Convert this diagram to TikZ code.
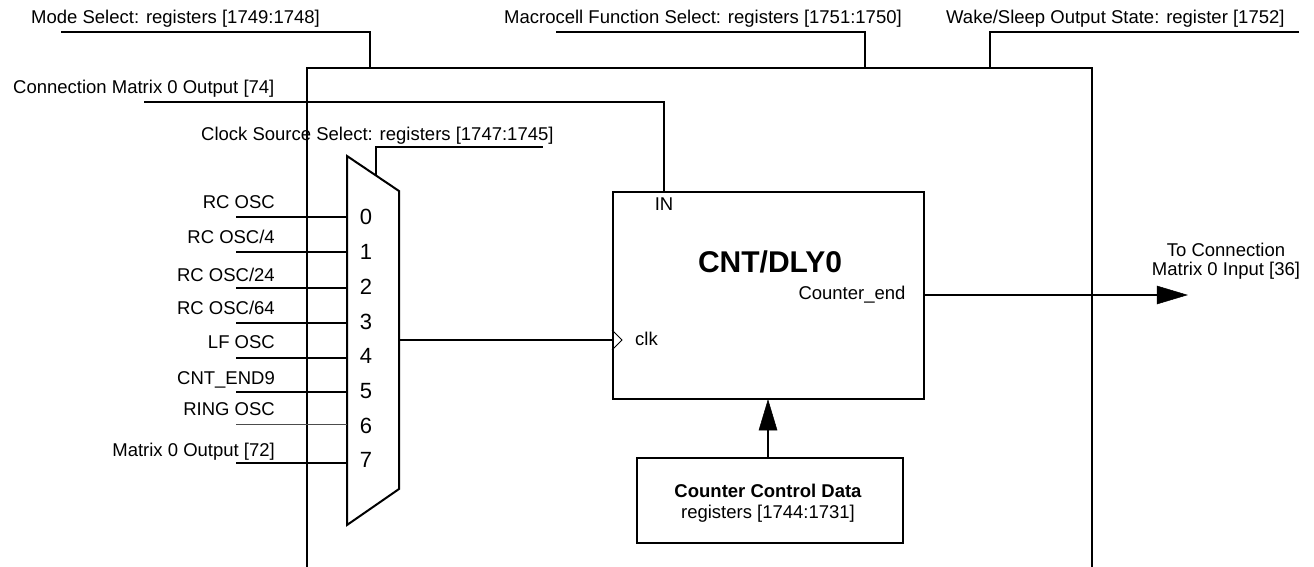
\documentclass[tikz,border=0pt]{standalone}
\usepackage{fontspec}
\setmainfont{Liberation Sans}
\begin{document}
\begin{tikzpicture}[x=1pt,y=-1pt,
  wire/.style={line width=2pt},
  thinwire/.style={line width=1pt},
  lbl/.style={inner sep=0pt,font=\fontsize{18.5}{22}\selectfont},
  dig/.style={inner sep=0pt,anchor=base,font=\fontsize{22}{26}\selectfont},
  ttl/.style={inner sep=0pt,anchor=base,font=\fontsize{30}{34}\selectfont\bfseries},
  boxed/.style={draw,line width=2pt,inner sep=0pt},
  head/.style={fill=black,draw=black,line width=0.5pt}]
\useasboundingbox (0,0) rectangle (1314,567);

% macrocell frame
\coordinate (fTL) at (307,68);
\coordinate (fTR) at (1092,68);
\coordinate (fBL) at (307,567);
\coordinate (fBR) at (1092,567);
\draw[wire] (fBL) -- (fTL) -- (fTR) -- (fBR);

% top labels
\node[lbl,anchor=base west] (mode) at (31,24) {Mode Select: registers [1749:1748]};
\node[lbl,anchor=base east] (macro) at (902,24) {Macrocell Function Select: registers [1751:1750]};
\node[lbl,anchor=base west] (wake) at (946,24) {Wake/Sleep Output State: register [1752]};
\coordinate (modeS) at (61,32);
\coordinate (modeK) at (370,32);
\coordinate (modeE) at (370,68);
\draw[wire] (modeS) -- (modeK) -- (modeE);
\coordinate (macS) at (556,32);
\coordinate (macK) at (865,32);
\coordinate (macE) at (865,68);
\draw[wire] (macS) -- (macK) -- (macE);
\coordinate (wakS) at (1299,32);
\coordinate (wakK) at (990,32);
\coordinate (wakE) at (990,68);
\draw[wire] (wakS) -- (wakK) -- (wakE);

% CNT/DLY0 block
\node[boxed,minimum width=311pt,minimum height=207pt,anchor=north west] (cnt) at (612,191) {};
\node[ttl] (title) at (770,272) {CNT/DLY0};
\node[lbl,anchor=base] (in) at (664,210) {IN};
\node[lbl,anchor=base] (cend) at (852,299) {Counter\_end};
\node[lbl,anchor=base west] (clk) at (635,345) {clk};
\coordinate (ck1) at (612,330);
\coordinate (ck2) at (622,340);
\coordinate (ck3) at (612,350);
\draw[thinwire] (ck1) -- (ck2) -- (ck3);

% connection matrix input
\node[lbl,anchor=base west] (cm74) at (13,94) {Connection Matrix 0 Output [74]};
\coordinate (cmS) at (144,102);
\coordinate (cmK) at (664,102);
\draw[wire] (cmS) -- (cmK) -- (cmK |- cnt.north);

% mux
\coordinate (mTL) at (347,156);
\coordinate (mTR) at (399,191);
\coordinate (mBR) at (399,489);
\coordinate (mBL) at (347,525);
\draw[wire,fill=white] (mTL) -- (mTR) -- (mBR) -- (mBL) -- cycle;
\node[lbl,anchor=base west] (css) at (201,140) {Clock Source Select: registers [1747:1745]};
\coordinate (selB) at (376,175);
\coordinate (selK) at (376,147);
\coordinate (selE) at (543,147);
\draw[wire] (selB) -- (selK) -- (selE);

% mux digits
\foreach \d/\y in {0/224,1/259,2/294,3/329,4/363,5/398,6/433,7/467}
  \node[dig] (d\d) at (366,\y) {\d};

% inputs
\node[lbl,anchor=base east] (in0) at (275,208) {RC OSC};
\node[lbl,anchor=base east] (in1) at (275,243) {RC OSC/4};
\node[lbl,anchor=base east] (in2) at (275,281) {RC OSC/24};
\node[lbl,anchor=base east] (in3) at (275,314) {RC OSC/64};
\node[lbl,anchor=base east] (in4) at (275,348) {LF OSC};
\node[lbl,anchor=base east] (in5) at (275,384) {CNT\_END9};
\node[lbl,anchor=base east] (in6) at (275,415) {RING OSC};
\node[lbl,anchor=base east] (in7) at (275,456) {Matrix 0 Output [72]};
\foreach \i/\l in {0/217,1/252,2/288,3/323,4/358,5/392,7/463}{
  \coordinate (is\i) at (236,\l);
  \draw[wire] (is\i) -- (is\i -| mTL);
}
\coordinate (is6) at (236,424);
\draw[line width=1pt,black!70] (is6) -- (is6 -| mTL);

% mux output to clk
\coordinate (mOut) at (399,340);
\draw[wire] (mOut) -- (mOut -| cnt.west);

% output arrow
\coordinate (oS) at (923,295);
\coordinate (oE) at (1160,295);
\coordinate (oT) at (1187,295);
\draw[wire] (oS) -- (oE);
\fill[head] (1157,286) -- (oT) -- (1157,304) -- cycle;
\node[lbl,anchor=base] (to1) at (1226,256) {To Connection};
\node[lbl,anchor=base] (to2) at (1226,275) {Matrix 0 Input [36]};

% counter control data
\node[boxed,minimum width=266pt,minimum height=85pt,anchor=north west] (ccd) at (636,457) {};
\node[lbl,anchor=base,font=\fontsize{18.5}{22}\selectfont\bfseries] (ccd1) at (768,497) {Counter Control Data};
\node[lbl,anchor=base] (ccd2) at (768,518) {registers [1744:1731]};
\coordinate (uS) at (768,457);
\coordinate (uE) at (768,428);
\draw[wire] (uS) -- (uE);
\fill[head] (759,430) -- (768,400) -- (777,430) -- cycle;
\end{tikzpicture}
\end{document}
